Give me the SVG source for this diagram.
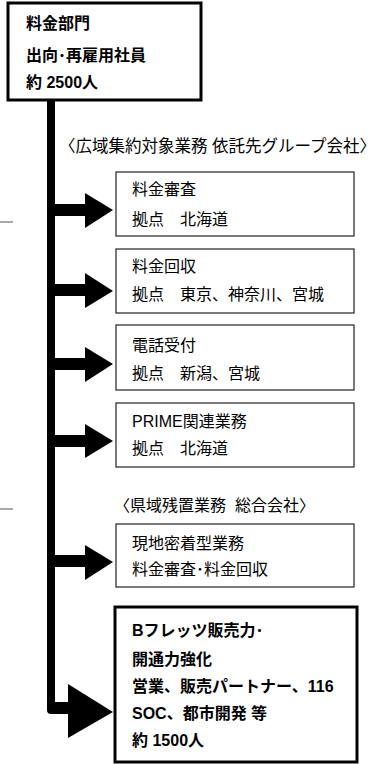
<svg xmlns="http://www.w3.org/2000/svg" width="382" height="764" viewBox="0 0 382 764">
<style>
text{font-family:"Liberation Sans","Noto Sans CJK JP",sans-serif;font-size:16px;fill:#000}
.b{font-weight:bold}
.h1{font-size:16.5px}
.box{fill:#fff;stroke:#222;stroke-width:1.2}
.tbox{fill:#fff;stroke:#000;stroke-width:3}
.arr{fill:#000}
.dash{stroke:#555;stroke-width:1}
</style>
<g id="connectors">
<path class="arr" d="M47,99 Q47,96 51,96 Q55,96 55,99 V702 H70 V714 H51 Q47,714 47,710 Z"/>
<path class="arr" d="M55,204 H85 V193 L113,210 L85,228 V216 H55 Z"/>
<path class="arr" d="M55,284 H85 V273 L113,291 L85,308 V296 H55 Z"/>
<path class="arr" d="M55,358 H85 V347 L113,364 L85,382 V370 H55 Z"/>
<path class="arr" d="M55,435 H85 V424 L113,441 L85,458 V447 H55 Z"/>
<path class="arr" d="M55,555 H85 V545 L113,562 L85,580 V567 H55 Z"/>
<path class="arr" d="M68,684 L113,712 L68,738 Z"/>
<line class="dash" x1="0" y1="222" x2="13" y2="222"/>
<line class="dash" x1="0" y1="509" x2="13" y2="509"/>
</g>
<g id="top">
<rect class="tbox" x="8" y="3" width="193" height="97"/>
<text class="b" x="26" y="29">料金部門</text>
<text class="b" x="26" y="61">出向･再雇用社員</text>
<text class="b" x="26" y="88">約 2500人</text>
</g>
<g id="heading1">
<text class="h1" x="59" y="152">〈広域集約対象業務 依託先グループ会社〉</text>
</g>
<g id="box1">
<rect class="box" x="116" y="172" width="238" height="64"/>
<text x="132" y="195">料金審査</text>
<text x="132" y="225">拠点　北海道</text>
</g>
<g id="box2">
<rect class="box" x="116" y="249" width="238" height="64"/>
<text x="132" y="272">料金回収</text>
<text x="132" y="300">拠点　東京、神奈川、宮城</text>
</g>
<g id="box3">
<rect class="box" x="116" y="325" width="238" height="65"/>
<text x="132" y="351">電話受付</text>
<text x="132" y="379">拠点　新潟、宮城</text>
</g>
<g id="box4">
<rect class="box" x="116" y="403" width="238" height="64"/>
<text x="132" y="427">PRIME関連業務</text>
<text x="132" y="454">拠点　北海道</text>
</g>
<g id="heading2">
<text x="114" y="511" xml:space="preserve">〈県域残置業務  総合会社〉</text>
</g>
<g id="box5">
<rect class="box" x="116" y="524" width="238" height="63"/>
<text x="132" y="549">現地密着型業務</text>
<text x="132" y="575">料金審査･料金回収</text>
</g>
<g id="box6">
<rect class="tbox" x="115" y="607" width="242" height="155"/>
<text class="b" x="132" y="636">Bフレッツ販売力･</text>
<text class="b" x="132" y="665">開通力強化</text>
<text class="b" x="132" y="692">営業、販売パートナー、116</text>
<text class="b" x="132" y="719">SOC、都市開発 等</text>
<text class="b" x="132" y="746">約 1500人</text>
</g>
</svg>
